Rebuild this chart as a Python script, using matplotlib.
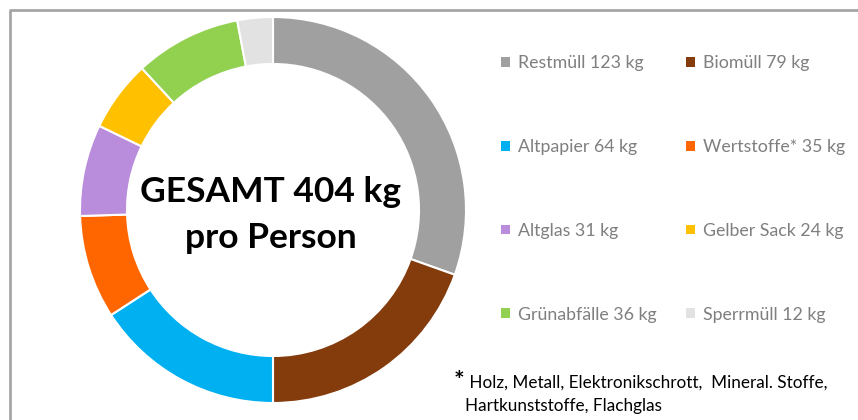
import matplotlib.pyplot as plt
from matplotlib.patches import Rectangle

plt.rcParams['font.family'] = ['Lato', 'DejaVu Sans']

# data
categories = ['Restmüll', 'Biomüll', 'Altpapier', 'Wertstoffe*', 'Altglas',
              'Gelber Sack', 'Grünabfälle', 'Sperrmüll']
values = [123, 79, 64, 35, 31, 24, 36, 12]
colors = ['#a0a0a0', '#843c0c', '#00b0f0', '#ff6600', '#b98cdc',
          '#ffc000', '#92d050', '#e2e2e2']
total_label = 'GESAMT 404 kg\npro Person'
footnote = ' Holz, Metall, Elektronikschrott,  Mineral. Stoffe,\nHartkunststoffe, Flachglas'

fig = plt.figure(figsize=(8.58, 4.2), dpi=100)
# axes in pixel units so the ring sits where it should
ax = fig.add_axes([0, 0, 1, 1])

wedges, _ = ax.pie(values, colors=colors, startangle=90, counterclock=False,
                   center=(273, 210), radius=193, frame=True,
                   wedgeprops=dict(width=47, edgecolor='white', linewidth=1.5))
ax.set_xlim(0, 858)
ax.set_ylim(0, 420)
ax.set_aspect('equal')
ax.axis('off')

# frame of the chart area
ax.plot([10, 10, 858], [0, 410, 410], color='#a6a6a6', lw=2, solid_capstyle='butt')

ax.text(271, 205, total_label, ha='center', va='center', fontsize=25.5,
        fontweight='bold', linespacing=1.5)

# legend, row-major order in two columns
labels = [f'{c} {v} kg' for c, v in zip(categories, values)]
order = [0, 2, 4, 6, 1, 3, 5, 7]
handles = [Rectangle((0, 0), 1, 1, facecolor=colors[i], edgecolor='none') for i in order]
leg = ax.legend(handles, [labels[i] for i in order], ncol=2, frameon=False,
                loc='upper left', bbox_to_anchor=(501 / 858, 1 - 55 / 420),
                fontsize=12.8, labelcolor='#7f7f7f', handlelength=0.48,
                handleheight=0.48, handletextpad=0.45, labelspacing=3.82,
                columnspacing=1.7, borderaxespad=0, borderpad=0)

ax.text(454, 420 - 381, '*', fontsize=18, fontweight='bold', va='center', ha='left')
ax.text(465, 420 - 394, footnote, fontsize=12.3, va='center', ha='left', linespacing=1.58)

fig.savefig('out.png', dpi=100)
